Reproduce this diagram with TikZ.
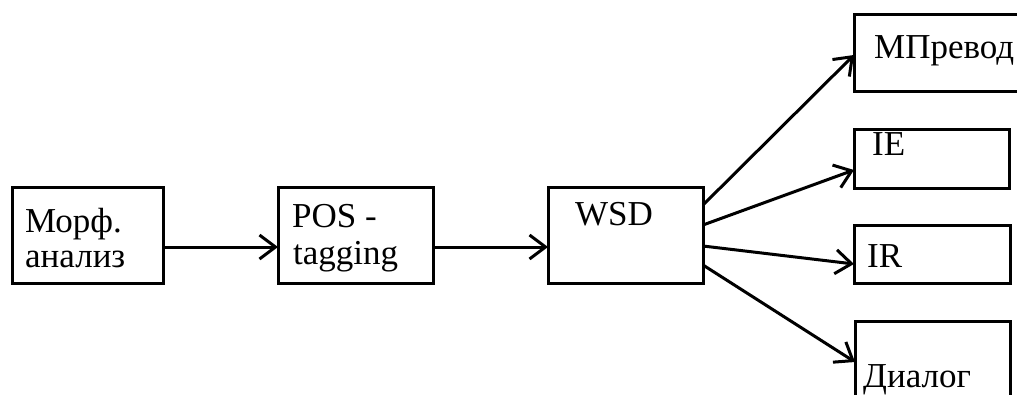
\documentclass[tikz,border=0pt]{standalone}
\usepackage{fontspec}
\setmainfont{Liberation Serif}
\usetikzlibrary{arrows.meta}
\tikzset{
  stage/.style={draw, line width=3pt, inner sep=0pt, outer sep=0pt},
  lbl/.style={anchor=base west, inner sep=0pt, font=\fontsize{35}{35}\selectfont},
  flow/.style={line width=3pt, -{Straight Barb[length=16pt,width=24pt,line width=3pt]}},
}
\begin{document}
\begin{tikzpicture}[x=1pt, y=-1pt]
  \useasboundingbox (0,0) rectangle (1017,394);
  \clip (0,0) rectangle (1017,394);

  % processing stages
  \node[stage, minimum width=151pt, minimum height=96pt] (morph) at (87.5,235) {};
  \node[stage, minimum width=155pt, minimum height=96pt] (pos)   at (355.5,235) {};
  \node[stage, minimum width=155pt, minimum height=96pt] (wsd)   at (625.5,235) {};

  % applications
  \node[stage, minimum width=186pt, minimum height=77pt] (mt)  at (947,52.5) {};
  \node[stage, minimum width=155pt, minimum height=59pt] (ie)  at (931.5,158.5) {};
  \node[stage, minimum width=156pt, minimum height=58pt] (ir)  at (932,254) {};
  \node[stage, minimum width=155pt, minimum height=98pt] (dlg) at (932.5,370) {};

  % labels
  \node[lbl] (tmorph1) at (25,232)  {Морф.};
  \node[lbl] (tmorph2) at (25,267)  {анализ};
  \node[lbl] (tpos1)   at (292,227) {POS -};
  \node[lbl] (tpos2)   at (293,264) {tagging};
  \node[lbl] (twsd)    at (575,225) {WSD};
  \node[lbl] (tmt)     at (874,58)  {МПревод};
  \node[lbl] (tie)     at (872,155) {IE};
  \node[lbl] (tir)     at (867,267) {IR};
  \node[lbl] (tdlg)    at (863,387) {Диалог};

  % connectors (yshift acts on the page, upwards positive)
  \draw[flow] ([yshift=-12pt]morph.east) -- ([yshift=-12pt]pos.west);
  \draw[flow] ([yshift=-12pt]pos.east)   -- ([yshift=-12pt]wsd.west);
  \draw[flow] ([yshift=30pt]wsd.east)    -- ([yshift=-2.5pt]mt.west);
  \draw[flow] ([yshift=10pt]wsd.east)    -- ([yshift=-11.5pt]ie.west);
  \draw[flow] ([yshift=-11pt]wsd.east)   -- ([yshift=-10pt]ir.west);
  \draw[flow] ([yshift=-30pt]wsd.east)   -- ([yshift=8pt]dlg.west);
\end{tikzpicture}
\end{document}
